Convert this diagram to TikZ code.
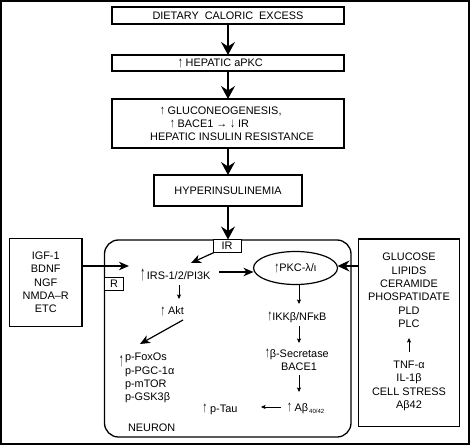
\documentclass[tikz,border=0pt]{standalone}
\usepackage{fontspec}
\setmainfont{Liberation Sans}
\usetikzlibrary{arrows.meta,shapes.geometric}
\newcommand\myup{\raisebox{-0.5bp}{\scalebox{0.85}[1.4]{↑}}}
\newcommand\smup{\scalebox{0.85}[1.2]{↑}}
\newcommand\smdn{\raisebox{-0.5bp}{\scalebox{0.85}[1.2]{↓}}}
\newcommand\tallup{\raisebox{-0.5bp}{\scalebox{0.8}[1.9]{↑}}}
\newcommand\tallupb{\raisebox{-5bp}{\scalebox{0.8}[1.8]{↑}}}
\newcommand\subab[1]{\raisebox{-2.5bp}{\fontsize{6bp}{6bp}\selectfont #1}}
\begin{document}
\begin{tikzpicture}[x=1bp,y=-1bp,
  every node/.style={font=\fontsize{10.9bp}{13.3bp}\selectfont, inner sep=0pt, outer sep=0pt},
  box/.style={draw, line width=1.2bp},
  smallbox/.style={draw, line width=0.9bp, fill=white},
  toparrow/.style={line width=1.5bp, -{Stealth[length=13bp,width=14bp,inset=4.5bp]}},
  midarrow/.style={line width=1.2bp, -{Stealth[length=10bp,width=8.5bp,inset=3bp]}},
  sidearrow/.style={line width=1.2bp, -{Stealth[length=12bp,width=11bp,inset=4bp]}},
  thinarrow/.style={line width=0.6bp, -{Stealth[length=4.5bp,width=4bp,inset=1bp]}}
]
\useasboundingbox (0,0) rectangle (470,445);
\draw[line width=1.2bp] (1,1) rectangle (469,444);

% top chain
\node[box, minimum width=232bp, minimum height=17bp] (dce) at (228,15.5) {DIETARY\hspace{6bp}CALORIC\hspace{6bp}EXCESS};
\node[box, minimum width=232bp, minimum height=16bp] (hapkc) at (228,63) {};
\node[anchor=base west] (hapkct) at (178,66.8) {\myup\ HEPATIC aPKC};
\node[box, minimum width=232bp, minimum height=49bp] (glu) at (228,123.5) {};
\node[anchor=base west] (glu1) at (160,114.3) {\smup\ GLUCONEOGENESIS,};
\node[anchor=base west] (glu2) at (170,127.3) {\smup\ BACE1 → \smdn\ IR};
\node[anchor=base] (glu3) at (232,140.8) {HEPATIC INSULIN RESISTANCE};
\node[box, minimum width=148bp, minimum height=31bp] (hyper) at (228,190.5) {HYPERINSULINEMIA};

% neuron
\node[draw, line width=1.3bp, rounded corners=14bp, minimum width=246.5bp, minimum height=197bp] (neuron) at (227.75,338.5) {};
\node[smallbox, minimum width=28bp, minimum height=13bp] (ir) at (227,246) {IR};
\node[smallbox, minimum width=19bp, minimum height=13.5bp] (r) at (114,283.75) {R};

% side boxes
\node[box, minimum width=72.5bp, minimum height=88bp, align=center] (left) at (45.75,282.5) {IGF-1\\BDNF\\NGF\\NMDA–R\\ETC};
\node[box, minimum width=101bp, minimum height=187.5bp] (right) at (409,332.75) {};
\node[align=center] (rt1) at (409,290.3) {GLUCOSE\\LIPIDS\\CERAMIDE\\PHOSPATIDATE\\PLD\\PLC};
\node[align=center] (rt2) at (409,386) {TNF-α\\IL-1β\\CELL STRESS\\Aβ42};

% neuron content
\node[draw, ellipse, line width=1.2bp, minimum width=84bp, minimum height=33bp] (pkc) at (295.5,268) {\myup PKC-λ/ι};
\node[anchor=base west] (irs) at (140.5,279.5) {\tallup\hspace{2bp}IRS-1/2/PI3K};
\node[anchor=base west] (akt) at (160.5,314.5) {\myup\ Akt};
\node[anchor=base east] (foxup) at (123.5,361) {\tallupb};
\node[anchor=west, align=left] (fox) at (125,378.2) {p-FoxOs\\p-PGC-1α\\p-mTOR\\p-GSK3β};
\node[anchor=base west] (ptau) at (202.5,412) {\myup\ p-Tau};
\node[anchor=base] (ikk) at (297,320) {\myup IKKβ/NFκB};
\node[anchor=base] (bsec) at (297,357) {\myup β-Secretase};
\node[anchor=base] (bace) at (299,370.5) {BACE1};
\node[anchor=base west] (abeta) at (287,411) {\myup\ Aβ\hspace{1bp}\subab{40/42}};
\node[anchor=base west] (neuronlbl) at (128,431.5) {NEURON};

% top connectors
\draw[toparrow] (dce) -- (hapkc);
\draw[toparrow] (hapkc) -- (glu);
\draw[toparrow] (glu) -- (hyper);
\draw[toparrow] (hyper.south) -- (hyper.south |- ir.north);

% neuron connectors
\coordinate (lt) at (129,266);
\draw[midarrow] (left.east |- lt) -- (lt);
\coordinate (irtip) at (191,263);
\draw[midarrow] ([xshift=1bp]ir.south west) -- (irtip);
\coordinate (irsout) at (219,272);
\draw[midarrow] (irsout) -- (pkc.west |- irsout);
\coordinate (rlvl) at (0,266);
\draw[sidearrow] (right.west |- rlvl) -- (pkc.east |- rlvl);
\coordinate (irsd1) at (179,285);
\coordinate (irsd2) at (179,299);
\draw[thinarrow] (irsd1) -- (irsd2);
\coordinate (aktA) at (183,320);
\coordinate (foxtip) at (140,344);
\draw[midarrow] (aktA) -- (foxtip);
\coordinate (c1a) at (299,285);
\coordinate (c1b) at (299,304);
\draw[thinarrow] (c1a) -- (c1b);
\coordinate (c2a) at (299,326);
\coordinate (c2b) at (299,343);
\draw[thinarrow] (c2a) -- (c2b);
\coordinate (c3a) at (299,375);
\coordinate (c3b) at (299,392);
\draw[thinarrow] (c3a) -- (c3b);
\coordinate (tauA) at (281,407);
\coordinate (tauB) at (261,407);
\draw[thinarrow] (tauA) -- (tauB);
\coordinate (rupA) at (409,352);
\coordinate (rupB) at (409,338);
\draw[thinarrow] (rupA) -- (rupB);
\end{tikzpicture}
\end{document}
